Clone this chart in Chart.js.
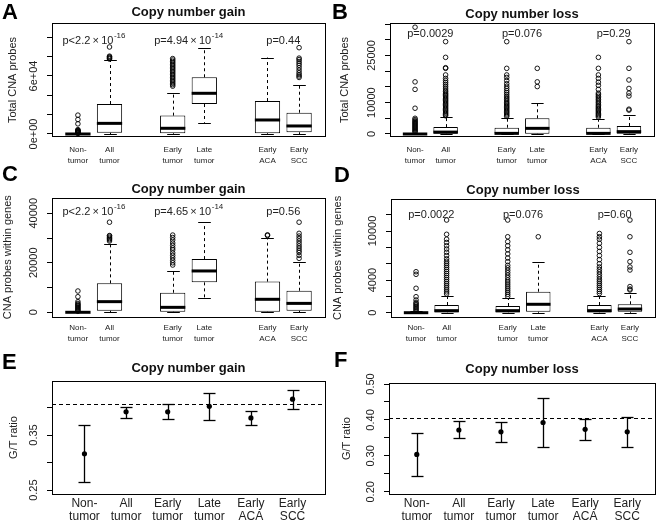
<!DOCTYPE html>
<html>
<head>
<meta charset="utf-8">
<script src="https://cdn.jsdelivr.net/npm/chart.js@4.4.1/dist/chart.umd.min.js"></script>
<style>
  html, body { margin: 0; padding: 0; background: #fff; }
  #fig { position: relative; width: 662px; height: 523px; overflow: hidden; }
  #fig canvas { position: absolute; }
  .letter { position: absolute; font: bold 22px "Liberation Sans", Arial, sans-serif; line-height: 1; color: #000; }
</style>
</head>
<body>
<div id="fig">
  <canvas id="chartA" width="331" height="174" style="left:0;top:0"></canvas>
  <canvas id="chartB" width="331" height="174" style="left:331px;top:0"></canvas>
  <canvas id="chartC" width="331" height="174" style="left:0;top:174px"></canvas>
  <canvas id="chartD" width="331" height="174" style="left:331px;top:174px"></canvas>
  <canvas id="chartE" width="331" height="175" style="left:0;top:348px"></canvas>
  <canvas id="chartF" width="331" height="175" style="left:331px;top:348px"></canvas>
  <div class="letter" style="left:2px;top:1px">A</div>
  <div class="letter" style="left:332px;top:1px">B</div>
  <div class="letter" style="left:2px;top:163px">C</div>
  <div class="letter" style="left:334px;top:164px">D</div>
  <div class="letter" style="left:2px;top:351px">E</div>
  <div class="letter" style="left:334px;top:349px">F</div>
</div>
<script>
// groups shared by every panel
const groupLabels = [['Non-', 'tumor'], ['All', 'tumor'], ['Early', 'tumor'], ['Late', 'tumor'], ['Early', 'ACA'], ['Early', 'SCC']];
const boxPos = [1, 2, 4, 5, 7, 8];
const pPos = [1.5, 4.5, 7.5];
const ratioPos = [1, 2, 3, 4, 5, 6];

// A: copy number gain, total CNA probes
const gainTotalQ1 = [0, 1300, 700, 31000, 700, 1700];
const gainTotalMed = [0, 11000, 5900, 42100, 14500, 8300];
const gainTotalQ3 = [300, 31000, 19000, 58700, 34100, 22000];
const gainTotalLo = [0, 0, 0, 11700, 0, 0];
const gainTotalHi = [500, 76600, 42100, 89300, 79000, 50700];
const gainTotalOut = [
  [600, 1000, 1400, 1800, 2200, 2600, 3000, 3400, 3800, 4500, 10500, 15000, 19500],
  [77500, 78200, 79000, 79800, 80500, 90000],
  [49500, 51000, 52500, 54000, 55500, 57000, 58500, 60000, 61500, 63000, 64500, 66000, 67500, 69000, 70500, 72000, 73500, 75000, 76500, 78000],
  [],
  [],
  [58500, 60000, 61500, 63500, 66000, 68500, 71000, 73000, 75000, 77000, 78500, 89300]
];
const gainTotalP = ['p<2.2\u2009×\u200910^-16', 'p=4.94\u2009×\u200910^-14', 'p=0.44'];
const gainTotalTicks = [0, 20000, 40000, 60000, 80000, 100000];
const gainTotalTickText = ['0e+00', '', '', '6e+04', '', ''];

// B: copy number loss, total CNA probes
const lossTotalQ1 = [0, 100, 0, 100, 0, 100];
const lossTotalMed = [0, 600, 200, 1800, 200, 750];
const lossTotalQ3 = [150, 2200, 2000, 5000, 2000, 2550];
const lossTotalLo = [0, 0, 0, 0, 0, 0];
const lossTotalHi = [400, 5500, 5000, 10000, 4800, 6000];
const lossTotalOut = [
  [600, 900, 1200, 1500, 1800, 2100, 2400, 2700, 3000, 3300, 3600, 3900, 4200, 4600, 5000, 8200, 14200, 16600, 34000],
  [5800, 6200, 6600, 7000, 7400, 7800, 8200, 8600, 9000, 9400, 9800, 10200, 10600, 11000, 11400, 11800, 12200, 12600, 13000, 13500, 14000, 14600, 15200, 15800, 16400, 17000, 17700, 18800, 20900, 21100, 24400, 29400],
  [5600, 6000, 6400, 6800, 7200, 7600, 8000, 8400, 8800, 9200, 9600, 10000, 10500, 11000, 11500, 12000, 12600, 13200, 13800, 14500, 15200, 16000, 17000, 18000, 18800, 20900, 29400],
  [15100, 16600, 20900],
  [5400, 5800, 6200, 6600, 7000, 7400, 7800, 8200, 8600, 9000, 9500, 10000, 10500, 11000, 11500, 12000, 12500, 13000, 14200, 15500, 16500, 17700, 18800, 20900, 24400],
  [7600, 7900, 12100, 13000, 14500, 17200, 20900, 29400]
];
const lossTotalP = ['p=0.0029', 'p=0.076', 'p=0.29'];
const lossTotalTicks = [0, 5000, 10000, 15000, 20000, 25000, 30000, 35000];
const lossTotalTickText = ['0', '', '10000', '', '', '25000', '', ''];

// C: copy number gain, probes within genes
const gainGeneQ1 = [0, 650, 250, 12100, 250, 650];
const gainGeneMed = [0, 4300, 2000, 16700, 5250, 3600];
const gainGeneQ3 = [150, 11700, 7900, 21500, 12400, 8700];
const gainGeneLo = [0, 0, 0, 5600, 0, 0];
const gainGeneHi = [300, 27600, 16800, 36400, 29900, 20400];
const gainGeneOut = [
  [400, 800, 1200, 1600, 2000, 2400, 2800, 3200, 3600, 4300, 6300, 8600],
  [28800, 29300, 29800, 30300, 30800, 31000, 36400],
  [19100, 20000, 21000, 22000, 23000, 24000, 25200, 26000, 27000, 28000, 29200, 30200, 31200],
  [],
  [31000, 31300],
  [21800, 23000, 24200, 25000, 25900, 26800, 27800, 28800, 29800, 30800, 31900, 36400]
];
const gainGeneP = ['p<2.2\u2009×\u200910^-16', 'p=4.65\u2009×\u200910^-14', 'p=0.56'];
const gainGeneTicks = [0, 10000, 20000, 30000, 40000];
const gainGeneTickText = ['0', '', '20000', '', '40000'];

// D: copy number loss, probes within genes
const lossGeneQ1 = [0, 30, 30, 120, 30, 120];
const lossGeneMed = [0, 250, 250, 1030, 250, 450];
const lossGeneQ3 = [60, 940, 820, 2570, 940, 1030];
const lossGeneLo = [0, 0, 0, 0, 0, 0];
const lossGeneHi = [150, 2090, 1760, 6250, 2090, 2370];
const lossGeneOut = [
  [200, 350, 500, 650, 800, 950, 1100, 1250, 1555, 1960, 2990, 4700, 5020],
  [2300, 2550, 2800, 3050, 3300, 3550, 3800, 4050, 4300, 4550, 4800, 5050, 5300, 5550, 5800, 6050, 6300, 6600, 7000, 7400, 7800, 8200, 8600, 9000, 9600, 11350],
  [2000, 2250, 2500, 2750, 3000, 3250, 3500, 3750, 4000, 4300, 4600, 4900, 5200, 5500, 5800, 6250, 6700, 7200, 7700, 8200, 8700, 9300, 11350],
  [9300],
  [2350, 2600, 2850, 3100, 3350, 3600, 3850, 4100, 4400, 4700, 5000, 5300, 5600, 6000, 6500, 7000, 7500, 8000, 8500, 9000, 9300, 9700],
  [2780, 2900, 3200, 5230, 5600, 6250, 7400, 9300, 11350]
];
const lossGeneP = ['p=0.0022', 'p=0.076', 'p=0.60'];
const lossGeneTicks = [0, 2000, 4000, 6000, 8000, 10000, 12000];
const lossGeneTickText = ['0', '', '4000', '', '', '10000', ''];

// E, F: G/T ratio with intervals
const gainRatio = [0.316, 0.392, 0.392, 0.402, 0.381, 0.415];
const gainRatioLo = [0.265, 0.381, 0.379, 0.377, 0.368, 0.397];
const gainRatioHi = [0.369, 0.401, 0.406, 0.427, 0.394, 0.432];
const gainRatioRef = 0.407;
const gainRatioTicks = [0.25, 0.30, 0.35, 0.40];
const gainRatioTickText = ['0.25', '', '0.35', ''];

const lossRatio = [0.304, 0.372, 0.367, 0.393, 0.374, 0.367];
const lossRatioLo = [0.244, 0.349, 0.339, 0.324, 0.344, 0.325];
const lossRatioHi = [0.365, 0.397, 0.393, 0.460, 0.402, 0.407];
const lossRatioRef = 0.405;
const lossRatioTicks = [0.20, 0.25, 0.30, 0.35, 0.40, 0.45, 0.50];
const lossRatioTickText = ['0.20', '', '0.30', '', '0.40', '', '0.50'];

const FONT = '"Liberation Sans", Arial, Helvetica, sans-serif';
Chart.defaults.font.family = FONT;
Chart.defaults.color = '#222';
Chart.defaults.animation = false;

function line(ctx, x1, y1, x2, y2) { ctx.beginPath(); ctx.moveTo(x1, y1); ctx.lineTo(x2, y2); ctx.stroke(); }

function drawPText(ctx, text, cx, cy) {
  const parts = text.split('^');
  ctx.font = '11px ' + FONT;
  const w1 = ctx.measureText(parts[0]).width;
  let w2 = 0;
  if (parts[1]) { ctx.font = '8px ' + FONT; w2 = ctx.measureText(parts[1]).width; }
  const x = cx - (w1 + w2) / 2;
  ctx.textAlign = 'left'; ctx.textBaseline = 'middle'; ctx.fillStyle = '#222';
  ctx.font = '11px ' + FONT; ctx.fillText(parts[0], x, cy);
  if (parts[1]) { ctx.font = '8px ' + FONT; ctx.fillText(parts[1], x + w1 + 0.5, cy - 5.5); }
}

// draws the R style bits: whiskers, medians, error bars, frame, p values, title
function rPlugin(p) {
  return {
    id: 'rstyle',
    beforeDatasetsDraw(chart) {
      const { ctx } = chart;
      const xs = chart.scales.x, ys = chart.scales.y;
      ctx.save();
      ctx.strokeStyle = '#000';
      ctx.lineWidth = 1;
      if (p.box) {
        const bars = chart.getDatasetMeta(0).data;
        p.pos.forEach((v, i) => {
          const x = Math.round(xs.getPixelForValue(v)) + 0.5;
          const cap = bars[i].width / 4;
          ctx.setLineDash([3, 3]);
          line(ctx, x, ys.getPixelForValue(p.box.q3[i]), x, ys.getPixelForValue(p.box.hi[i]));
          line(ctx, x, ys.getPixelForValue(p.box.q1[i]), x, ys.getPixelForValue(p.box.lo[i]));
          ctx.setLineDash([]);
          const yh = Math.round(ys.getPixelForValue(p.box.hi[i])) + 0.5;
          const yl = Math.round(ys.getPixelForValue(p.box.lo[i])) + 0.5;
          line(ctx, x - cap, yh, x + cap, yh);
          line(ctx, x - cap, yl, x + cap, yl);
        });
      }
      if (p.err) {
        const ca = chart.chartArea;
        ctx.setLineDash([4, 3]);
        ctx.lineWidth = 1.2;
        const yr = Math.round(ys.getPixelForValue(p.err.ref)) + 0.5;
        line(ctx, ca.left, yr, ca.right, yr);
        ctx.setLineDash([]);
        ctx.lineWidth = 1.3;
        p.pos.forEach((v, i) => {
          const x = Math.round(xs.getPixelForValue(v)) + 0.5;
          const yh = Math.round(ys.getPixelForValue(p.err.hi[i])) + 0.5;
          const yl = Math.round(ys.getPixelForValue(p.err.lo[i])) + 0.5;
          line(ctx, x, yh, x, yl);
          line(ctx, x - 6, yh, x + 6, yh);
          line(ctx, x - 6, yl, x + 6, yl);
        });
      }
      ctx.restore();
    },
    afterDatasetsDraw(chart) {
      const { ctx, chartArea: ca } = chart;
      const xs = chart.scales.x, ys = chart.scales.y;
      ctx.save();
      ctx.strokeStyle = '#000';
      if (p.box) {
        const bars = chart.getDatasetMeta(0).data;
        ctx.lineWidth = 3;
        p.pos.forEach((v, i) => {
          const x = xs.getPixelForValue(v);
          const ym = ys.getPixelForValue(p.box.med[i]);
          line(ctx, x - bars[i].width / 2, ym, x + bars[i].width / 2, ym);
        });
      }
      ctx.lineWidth = 1;
      ctx.strokeRect(Math.round(ca.left) + 0.5, Math.round(ca.top) + 0.5, Math.round(ca.right - ca.left), Math.round(ca.bottom - ca.top));
      if (p.pText) {
        p.pText.forEach((t, i) => drawPText(ctx, t, xs.getPixelForValue(pPos[i]), ys.getPixelForValue(p.pY)));
      }
      ctx.fillStyle = '#111';
      ctx.font = 'bold 13px ' + FONT;
      ctx.textAlign = 'center';
      ctx.textBaseline = 'middle';
      ctx.fillText(p.title, (ca.left + ca.right) / 2, p.titleY);
      ctx.restore();
    }
  };
}

function makeOptions(p) {
  return {
    responsive: false,
    maintainAspectRatio: false,
    events: [],
    layout: { padding: { left: 0, top: p.plot.top, right: p.w - p.plot.right, bottom: 0 } },
    plugins: { legend: { display: false }, tooltip: { enabled: false } },
    scales: {
      x: {
        type: 'linear', min: p.xMin, max: p.xMax, offset: false,
        grid: { display: false, drawTicks: false, offset: false },
        border: { display: false },
        afterBuildTicks: s => { s.ticks = p.pos.map(v => ({ value: v })); },
        afterFit: s => { s.height = p.h - p.plot.bottom; },
        ticks: {
          autoSkip: false, minRotation: 0, maxRotation: 0, padding: p.xPad, color: '#222',
          font: { size: p.xFont, lineHeight: p.xLine },
          callback: v => groupLabels[p.pos.indexOf(v)]
        }
      },
      y: {
        type: 'linear', min: p.yMin, max: p.yMax,
        grid: { display: true, drawOnChartArea: false, drawTicks: true, tickLength: 5, color: '#000', lineWidth: 1 },
        border: { display: false },
        afterBuildTicks: s => { s.ticks = p.yTicks.map(v => ({ value: v })); },
        afterFit: s => { s.width = p.plot.left; },
        ticks: {
          autoSkip: false, minRotation: 90, maxRotation: 90, crossAlign: 'center', padding: p.yPad, color: '#222',
          font: { size: 11 },
          callback: (v, i) => p.yText[i]
        },
        title: { display: true, text: p.yTitle, color: '#222', font: { size: 11, lineHeight: 1.2 }, padding: { top: p.yTitleX - 6.6, bottom: 0 } }
      }
    }
  };
}

function boxChart(id, p) {
  const boxData = p.pos.map((x, i) => ({ x: x, y: [p.box.q1[i], p.box.q3[i]] }));
  const outData = [];
  p.out.forEach((vals, i) => vals.forEach(v => outData.push({ x: p.pos[i], y: v })));
  return new Chart(document.getElementById(id), {
    type: 'bar',
    data: {
      datasets: [
        { type: 'bar', data: boxData, backgroundColor: '#fff', borderColor: '#000', borderWidth: 1, borderSkipped: false, barPercentage: 0.8, categoryPercentage: 1, order: 2 },
        { type: 'scatter', data: outData, pointStyle: 'circle', pointRadius: 2.3, borderColor: '#000', borderWidth: 0.9, backgroundColor: 'rgba(0,0,0,0)', order: 1 }
      ]
    },
    options: makeOptions(p),
    plugins: [rPlugin(p)]
  });
}

function ratioChart(id, p) {
  return new Chart(document.getElementById(id), {
    type: 'scatter',
    data: {
      datasets: [{ data: p.pos.map((x, i) => ({ x: x, y: p.mean[i] })), pointStyle: 'circle', pointRadius: 2.6, backgroundColor: '#000', borderWidth: 0 }]
    },
    options: makeOptions(p),
    plugins: [rPlugin(p)]
  });
}

const boxBase = { w: 331, h: 174, xMin: 0.18, xMax: 8.82, pos: boxPos, xFont: 8, xLine: 1.375 };

boxChart('chartA', Object.assign({}, boxBase, {
  plot: { left: 52, top: 23.3, right: 325, bottom: 136.7 }, xPad: 8,
  yMin: -2800, yMax: 114500, yTicks: gainTotalTicks, yText: gainTotalTickText, yPad: -2.5,
  yTitle: 'Total CNA probes', yTitleX: 13, title: 'Copy number gain', titleY: 12.5,
  box: { q1: gainTotalQ1, med: gainTotalMed, q3: gainTotalQ3, lo: gainTotalLo, hi: gainTotalHi },
  out: gainTotalOut, pText: gainTotalP, pY: 96000
}));

boxChart('chartB', Object.assign({}, boxBase, {
  plot: { left: 59, top: 23.3, right: 323, bottom: 136.7 }, xPad: 8,
  yMin: -860, yMax: 35240, yTicks: lossTotalTicks, yText: lossTotalTickText, yPad: -2.3,
  yTitle: 'Total CNA probes', yTitleX: 14, title: 'Copy number loss', titleY: 14,
  box: { q1: lossTotalQ1, med: lossTotalMed, q3: lossTotalQ3, lo: lossTotalLo, hi: lossTotalHi },
  out: lossTotalOut, pText: lossTotalP, pY: 32000
}));

boxChart('chartC', Object.assign({}, boxBase, {
  plot: { left: 52, top: 23.7, right: 325, bottom: 142.7 }, xPad: 6,
  yMin: -1780, yMax: 46300, yTicks: gainGeneTicks, yText: gainGeneTickText, yPad: -2.3,
  yTitle: 'CNA probes within genes', yTitleX: 8, title: 'Copy number gain', titleY: 15.5,
  box: { q1: gainGeneQ1, med: gainGeneMed, q3: gainGeneQ3, lo: gainGeneLo, hi: gainGeneHi },
  out: gainGeneOut, pText: gainGeneP, pY: 40600
}));

boxChart('chartD', Object.assign({}, boxBase, {
  plot: { left: 60, top: 25, right: 324, bottom: 142.7 }, xPad: 6,
  yMin: -490, yMax: 13925, yTicks: lossGeneTicks, yText: lossGeneTickText, yPad: -2.3,
  yTitle: 'CNA probes within genes', yTitleX: 7, title: 'Copy number loss', titleY: 16.5,
  box: { q1: lossGeneQ1, med: lossGeneMed, q3: lossGeneQ3, lo: lossGeneLo, hi: lossGeneHi },
  out: lossGeneOut, pText: lossGeneP, pY: 11970
}));

const ratioBase = { w: 331, h: 175, pos: ratioPos, xFont: 12, xLine: 1.12, xPad: 2.6, yPad: 2.3 };

ratioChart('chartE', Object.assign({}, ratioBase, {
  plot: { left: 52, top: 33, right: 325, bottom: 146 }, xMin: 0.22, xMax: 6.78,
  yMin: 0.243, yMax: 0.448, yTicks: gainRatioTicks, yText: gainRatioTickText,
  yTitle: 'G/T ratio', yTitleX: 14, title: 'Copy number gain', titleY: 20,
  mean: gainRatio, err: { lo: gainRatioLo, hi: gainRatioHi, ref: gainRatioRef }
}));

ratioChart('chartF', Object.assign({}, ratioBase, {
  plot: { left: 58, top: 35.3, right: 324, bottom: 146 }, xMin: 0.34, xMax: 6.66,
  yMin: 0.194, yMax: 0.502, yTicks: lossRatioTicks, yText: lossRatioTickText,
  yTitle: 'G/T ratio', yTitleX: 16, title: 'Copy number loss', titleY: 21,
  mean: lossRatio, err: { lo: lossRatioLo, hi: lossRatioHi, ref: lossRatioRef }
}));
</script>
</body>
</html>
